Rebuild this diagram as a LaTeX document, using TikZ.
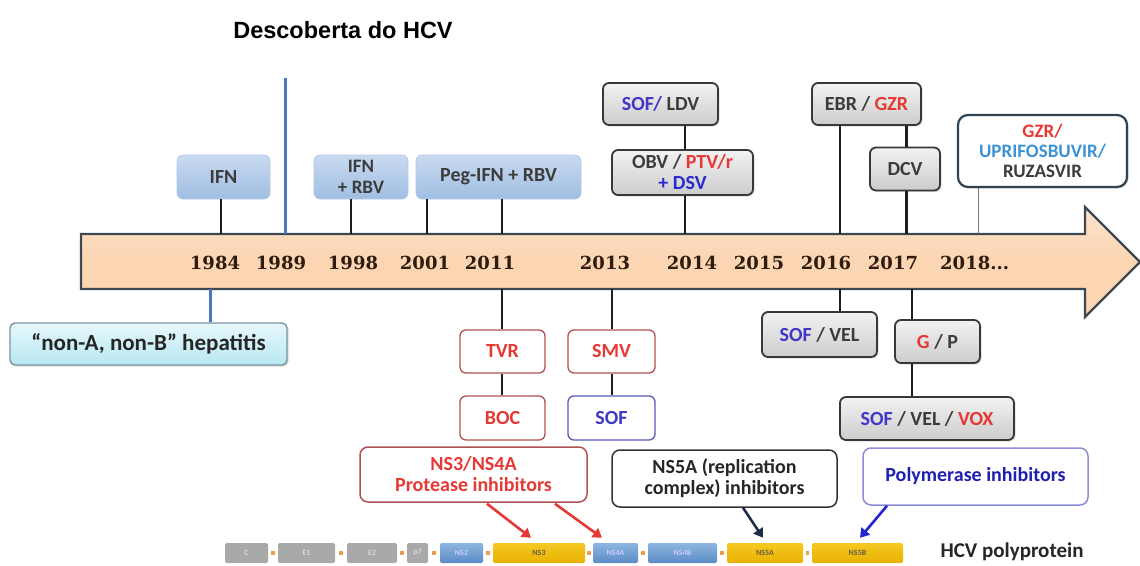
\documentclass[tikz,border=0pt]{standalone}
\usepackage{fontspec}
\setmainfont{Carlito}
\newfontfamily\yearfont{DejaVu Serif}
\newfontfamily\titlefont{Liberation Sans}
\usetikzlibrary{arrows.meta,shadows,calc}
\definecolor{sofblue}{HTML}{4038C8}
\definecolor{pred}{HTML}{E53935}
\definecolor{dsvblue}{HTML}{2A2AD0}
\definecolor{lblue}{HTML}{3C92D4}
\definecolor{txtgray}{HTML}{3C3C3C}
\definecolor{yearcol}{HTML}{2E1C0E}
\definecolor{peach}{HTML}{FCD5B2}
\definecolor{peachlt}{HTML}{FDE2CB}
\definecolor{arrowedge}{HTML}{3E4852}
\definecolor{bluebar}{HTML}{4A78BD}
\definecolor{boxbluetop}{HTML}{C9DAF0}
\definecolor{boxbluebot}{HTML}{9FBDE2}
\definecolor{rededge}{HTML}{B05252}
\definecolor{purpedge}{HTML}{5A5AB8}
\definecolor{polyedge}{HTML}{8C8CDA}
\definecolor{ruzedge}{HTML}{2F4352}
\definecolor{cyantop}{HTML}{E6F8FB}
\definecolor{cyanbot}{HTML}{B8E8F2}
\definecolor{cyanedge}{HTML}{7C93A4}
\definecolor{segray}{HTML}{A9A9A9}
\definecolor{segblue}{HTML}{5B8CC6}
\definecolor{segbluelt}{HTML}{8DB5E0}
\definecolor{seggold}{HTML}{E8B200}
\definecolor{seggoldlt}{HTML}{F6C823}
\definecolor{dotor}{HTML}{E8A050}
\definecolor{navyarr}{HTML}{1E2B48}
\definecolor{bluearr}{HTML}{2424D0}
\begin{document}
\begin{tikzpicture}[x=1pt,y=-1pt,
  boxfont/.style={font=\fontsize{20}{21}\selectfont\bfseries},
  bluebox/.style={boxfont, text=txtgray, rounded corners=6pt, top color=boxbluetop, bottom color=boxbluebot, draw=boxbluebot!80!white, line width=0.6pt, inner sep=0pt, align=center},
  graybox/.style={boxfont, text=txtgray, rounded corners=6pt, top color=white!95!black, bottom color=white!80!black, draw=black!78, line width=1.8pt, inner sep=0pt, align=center, drop shadow={opacity=0.25, shadow xshift=1.5pt, shadow yshift=-1.5pt}},
  redbox/.style={boxfont, text=pred, rounded corners=6pt, fill=white, draw=rededge, line width=1.3pt, inner sep=0pt, align=center},
  purpbox/.style={boxfont, text=sofblue, rounded corners=6pt, fill=white, draw=purpedge, line width=1.3pt, inner sep=0pt, align=center},
  catbox/.style={boxfont, rounded corners=8pt, fill=white, line width=1.5pt, inner sep=0pt, align=center},
  year/.style={font=\yearfont\bfseries\fontsize{18}{20}\selectfont, text=yearcol, inner sep=0pt},
  conn/.style={line width=2.4pt, black!88},
  seg/.style={rounded corners=2pt, minimum height=20pt, inner sep=0pt, font=\fontsize{8}{8}\selectfont\bfseries},
  graysegstyle/.style={seg, fill=segray, text=white!85!black},
  bluesegstyle/.style={seg, top color=segbluelt, bottom color=segblue, text=white!80!blue},
  goldsegstyle/.style={seg, top color=seggoldlt, bottom color=seggold, text=black!70!yellow},
  dotstyle/.style={fill=dotor, inner sep=0pt, minimum size=3.5pt},
  catarrow/.style={line width=2.6pt, -{Triangle[length=9pt,width=11pt]}}
]
\useasboundingbox[fill=white] (0,0) rectangle (1140,565);

% title
\node[font=\titlefont\bfseries\fontsize{23.5}{25}\selectfont] (title) at (343,30) {Descoberta do HCV};

% timeline arrow
\draw[line width=2.2pt, draw=arrowedge, top color=peachlt, bottom color=peach, middle color=peach]
  (81,234) -- (1085,234) -- (1085,207) -- (1140,262) -- (1085,317) -- (1085,289) -- (81,289) -- cycle;

% coordinates on the arrow
\coordinate (t1984) at (221,234);
\coordinate (t1989) at (285,234);
\coordinate (bluetop) at (285,78);
\coordinate (t1998) at (351,234);
\coordinate (t2001) at (427,234);
\coordinate (t2011) at (502,234);
\coordinate (t2014) at (685,234);
\coordinate (t2016) at (840,234);
\coordinate (t2017) at (906,234);
\coordinate (t2018) at (978,234);
\coordinate (b1984) at (210,289);
\coordinate (b2011) at (502,289);
\coordinate (b2013) at (612,289);
\coordinate (b2016) at (840,289);
\coordinate (b2017) at (912,289);

% years
\node[year] (y1984) at (215,263) {1984};
\node[year] (y1989) at (281,263) {1989};
\node[year] (y1998) at (353,263) {1998};
\node[year] (y2001) at (425,263) {2001};
\node[year] (y2011) at (490,263) {2011};
\node[year] (y2013) at (605,263) {2013};
\node[year] (y2014) at (692,263) {2014};
\node[year] (y2015) at (759,263) {2015};
\node[year] (y2016) at (826,263) {2016};
\node[year] (y2017) at (893,263) {2017};
\node[year, anchor=west] (y2018) at (940,263) {2018...};

% blue discovery line
\draw[line width=3pt, bluebar] (bluetop) -- (t1989);

% top boxes
\node[bluebox, minimum width=93pt, minimum height=44pt] (ifn) at (223.5,177) {IFN};
\node[bluebox, minimum width=94pt, minimum height=44pt, font=\fontsize{19}{21}\selectfont\bfseries] (ifnrbv) at (361,177) {IFN\\+ RBV};
\node[bluebox, minimum width=165pt, minimum height=44pt] (peg) at (498.5,177) {Peg-IFN + RBV};

\draw[conn] (ifn.south -| t1984) -- (t1984);
\draw[conn] (ifnrbv.south -| t1998) -- (t1998);
\draw[conn] (peg.south -| t2001) -- (t2001);
\draw[conn] (peg.south -| t2011) -- (t2011);

% gray boxes above
\node[graybox, minimum width=115pt, minimum height=42pt] (sofldv) at (660.5,104) {\textcolor{sofblue}{SOF/} LDV};
\node[graybox, minimum width=141pt, minimum height=45pt] (obv) at (682.5,172.5) {OBV / \textcolor{pred}{PTV/r}\\\textcolor{dsvblue}{+ DSV}};
\node[graybox, minimum width=109pt, minimum height=42pt] (ebr) at (866.5,104) {EBR / \textcolor{pred}{GZR}};
\node[graybox, minimum width=70pt, minimum height=43pt] (dcv) at (905,169) {DCV};
\node[graybox, minimum width=169pt, minimum height=72pt, fill=white, top color=white, bottom color=white, draw=ruzedge, line width=2.2pt, rounded corners=10pt, font=\fontsize{19}{20}\selectfont\bfseries] (ruz) at (1042.5,151) {\textcolor{pred}{GZR/}\\\textcolor{lblue}{UPRIFOSBUVIR/}\\RUZASVIR};

\draw[conn] (sofldv.south -| t2014) -- (obv.north -| t2014);
\draw[conn] (obv.south -| t2014) -- (t2014);
\draw[conn] (ebr.south -| t2016) -- (t2016);
\draw[conn, line width=3pt] (ebr.south -| t2017) -- (dcv.north -| t2017);
\draw[conn, line width=3pt] (dcv.south -| t2017) -- (t2017);
\draw[line width=1pt, black!55] (ruz.south -| t2018) -- (t2018);

% below the arrow
\node[boxfont, font=\fontsize{23}{24}\selectfont\bfseries, text=black!85, rounded corners=5pt, top color=cyantop, bottom color=cyanbot, draw=cyanedge, line width=1.4pt, inner sep=0pt, minimum width=277pt, minimum height=42pt, drop shadow={opacity=0.3, shadow xshift=1.5pt, shadow yshift=-1.5pt}] (nona) at (148.5,344) {“non-A, non-B” hepatitis};
\draw[line width=3pt, bluebar] (b1984) -- (nona.north -| b1984);

\node[redbox, minimum width=85pt, minimum height=43pt] (tvr) at (502.5,351.5) {TVR};
\node[redbox, minimum width=85pt, minimum height=44pt] (boc) at (502.5,418) {BOC};
\node[redbox, minimum width=87pt, minimum height=43pt] (smv) at (611.5,351.5) {SMV};
\node[purpbox, minimum width=87pt, minimum height=44pt] (sofb) at (611.5,418) {SOF};
\draw[conn] (b2011) -- (tvr.north -| b2011);
\draw[conn] (tvr.south -| b2011) -- (boc.north -| b2011);
\draw[conn] (b2013) -- (smv.north -| b2013);
\draw[conn] (smv.south -| b2013) -- (sofb.north -| b2013);

\node[graybox, minimum width=115pt, minimum height=45pt] (sofvel) at (819.5,334.5) {\textcolor{sofblue}{SOF} / VEL};
\node[graybox, minimum width=85pt, minimum height=43pt] (gp) at (937.5,341.5) {\textcolor{pred}{G} / P};
\node[graybox, minimum width=174pt, minimum height=43pt] (vox) at (927,418.5) {\textcolor{sofblue}{SOF} / VEL / \textcolor{pred}{VOX}};
\draw[conn] (b2016) -- (sofvel.north -| b2016);
\draw[conn] (b2017) -- (gp.north -| b2017);
\draw[conn] (gp.south -| b2017) -- (vox.north -| b2017);

% category boxes
\node[catbox, draw=rededge, text=pred, minimum width=227pt, minimum height=55pt] (ns3box) at (473.5,474.5) {NS3/NS4A\\Protease inhibitors};
\node[catbox, draw=black!80, text=black!85, minimum width=225pt, minimum height=57pt] (ns5abox) at (724.5,478.5) {NS5A (replication\\complex) inhibitors};
\node[catbox, draw=polyedge, text=bluearr!85!black, minimum width=225pt, minimum height=57pt] (polybox) at (975.5,476.5) {Polymerase inhibitors};

% polyprotein
\node[graysegstyle, minimum width=43pt] (segC) at (246.5,553) {C};
\node[graysegstyle, minimum width=57pt] (segEone) at (306.5,553) {E1};
\node[graysegstyle, minimum width=50pt] (segEtwo) at (372,553) {E2};
\node[graysegstyle, minimum width=21pt] (segpseven) at (417.5,553) {p7};
\node[bluesegstyle, minimum width=43pt] (segNStwo) at (461.5,553) {NS2};
\node[goldsegstyle, minimum width=92pt] (segNSthree) at (539,553) {NS3};
\node[bluesegstyle, minimum width=45pt] (segNSfourA) at (615.5,553) {NS4A};
\node[bluesegstyle, minimum width=69pt] (segNSfourB) at (682.5,553) {NS4B};
\node[goldsegstyle, minimum width=76pt] (segNSfiveA) at (765,553) {NS5A};
\node[goldsegstyle, minimum width=91pt] (segNSfiveB) at (857.5,553) {NS5B};
\node[anchor=west, font=\fontsize{21}{22}\selectfont\bfseries, text=black!85] (polylabel) at (937,552) {HCV polyprotein};

\node[dotstyle] (d1) at (273,553) {};
\node[dotstyle] (d2) at (341,553) {};
\node[dotstyle] (d3) at (402,553) {};
\node[dotstyle] (d4) at (434,553) {};
\node[dotstyle] (d5) at (488,553) {};
\node[dotstyle] (d6) at (589,553) {};
\node[dotstyle] (d7) at (643,553) {};
\node[dotstyle] (d8) at (722,553) {};
\node[dotstyle] (d9) at (807.5,553) {};

% arrows to polyprotein
\draw[catarrow, pred] ($(ns3box.south)+(13.5,1)$) -- ($(segNSthree.north)+(-8,-5)$);
\draw[catarrow, pred] ($(ns3box.south)+(81.5,1)$) -- ($(segNSfourA.north)+(-13.5,-5)$);
\draw[catarrow, navyarr] ($(ns5abox.south)+(18.5,0)$) -- ($(segNSfiveA.north)+(-2,-5)$);
\draw[catarrow, bluearr] ($(polybox.south)+(-88.5,0)$) -- ($(segNSfiveB.north)+(2.5,-5)$);
\end{tikzpicture}
\end{document}
